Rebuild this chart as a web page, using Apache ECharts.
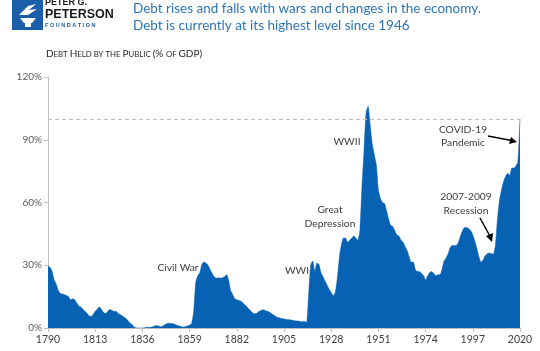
<!DOCTYPE html>
<html>
<head>
<meta charset="utf-8">
<script src="https://cdn.jsdelivr.net/npm/echarts@6/dist/echarts.min.js"></script>
<style>
  html, body { margin: 0; padding: 0; background: #fff; }
  #chart { width: 540px; height: 351px; }
</style>
</head>
<body>
<div id="chart"></div>
<script>
// years 1790..2020, one value per year (debt held by the public, % of GDP)
const startYear = 1790;
const debtPct = [
  29.5, 29, 27, 23, 21, 18, 16.5, 16.3, 16, 15.5,
  15, 13.5, 14, 13.5, 12, 10.5, 10, 9, 8, 7,
  5.8, 5.5, 6.5, 8, 9, 10, 9, 7.5, 7, 7.8,
  8.8, 8.5, 8, 8, 7.2, 6.5, 6, 5.2, 4.5, 3.5,
  2.5, 1.5, 0.5, 0.1, 0, 0, 0, 0.1, 0.3, 0.3,
  0.3, 0.6, 1, 1.2, 0.8, 0.6, 1, 1.6, 2.1, 2.3,
  2.2, 2, 1.7, 1.3, 0.9, 0.6, 0.5, 0.7, 1, 1.4,
  2.2, 8, 22, 25, 26.5, 30.5, 31.5, 31, 30, 28,
  26, 24.5, 23.8, 24, 23.8, 24, 24.5, 25.5, 23, 18,
  16, 14, 13.5, 13.2, 12.8, 12, 11, 10, 9, 8,
  7, 6.8, 7.2, 8, 8.5, 8.7, 8.3, 8, 7.5, 6.8,
  6.2, 5.5, 5, 4.8, 4.5, 4.3, 4.1, 4, 3.9, 3.7,
  3.5, 3.4, 3.3, 3.1, 3, 3.1, 2.7, 16, 30, 32,
  27, 31, 30.5, 26.5, 24.5, 22.5, 20.5, 18.5, 17, 15.5,
  17, 24, 34, 40, 43, 43, 41, 42, 43, 44,
  43, 42, 47, 68, 85, 103, 106, 97, 88, 83,
  78, 66, 62, 60, 59.5, 56, 52, 49, 48.5, 46.5,
  44.5, 44, 42, 41, 39, 37, 34, 31.5, 31.5, 28,
  27, 27, 26, 25, 23, 25, 26.5, 27, 26, 25,
  25.5, 25.5, 28, 32, 33.5, 35.5, 38.5, 39.5, 39.5, 39.5,
  41, 44, 46.5, 48, 48, 47.5, 46.5, 44.5, 41.5, 38,
  34, 31.5, 32.5, 34.5, 35.5, 35.8, 35.5, 35.3, 39.5, 52,
  61, 66, 70, 72.5, 74, 73, 76.5, 76.5, 77.5, 79.5,
  100
];
const years = debtPct.map((v, i) => String(startYear + i));
const yTicks = [0, 30, 60, 90, 120];
const refLevel = 100;

const titleLines = [
  'Debt rises and falls with wars and changes in the economy.',
  'Debt is currently at its highest level since 1946'
];

const myChart = echarts.init(document.getElementById('chart'));

const labelFont = 'Lato, "Open Sans", sans-serif';
// estilo comun para las notas del grafico
const noteStyle = { fill: '#404040', font: '10.3px ' + labelFont, textAlign: 'center', textVerticalAlign: 'middle' };

const option = {
  animation: false,
  grid: { left: 48, right: 20, top: 77, bottom: 23 },
  xAxis: {
    type: 'category',
    data: years,
    boundaryGap: false,
    axisLine: { lineStyle: { color: '#bfbfbf' } },
    axisTick: { interval: 22, length: 4, lineStyle: { color: '#bfbfbf' } },
    axisLabel: { interval: 22, color: '#404040', fontSize: 10.5, fontFamily: labelFont, margin: 6 }
  },
  yAxis: {
    type: 'value',
    min: yTicks[0],
    max: yTicks[yTicks.length - 1],
    interval: 30,
    splitLine: { show: false },
    axisLine: { show: true, lineStyle: { color: '#bfbfbf' } },
    axisTick: { show: true, length: 4, lineStyle: { color: '#bfbfbf' } },
    axisLabel: { formatter: '{value}%', color: '#595959', fontSize: 10, fontFamily: labelFont, margin: 6 }
  },
  series: [{
    type: 'line',
    data: debtPct,
    symbol: 'none',
    smooth: 0.2,
    lineStyle: { width: 0.5, color: '#0862B3' },
    areaStyle: { color: '#0862B3', opacity: 1 },
    markLine: {
      silent: true,
      symbol: 'none',
      label: { show: false },
      lineStyle: { type: [4, 3], color: '#c0c0c0', width: 1 },
      data: [{ yAxis: refLevel }]
    }
  }],
  graphic: [
    // logo
    { type: 'rect', left: 12, top: 0, shape: { width: 31, height: 30 }, style: { fill: '#1A5DA8' } },
    { type: 'polygon', shape: { points: [[20, 18], [36, 18], [32, 23], [24, 23]] }, style: { fill: '#fff' } },
    { type: 'rect', shape: { x: 25, y: 23, width: 6, height: 4 }, style: { fill: '#fff' } },
    { type: 'polygon', shape: { points: [[19, 15], [28, 6], [36, 4], [29, 10], [37, 9], [28, 15]] }, style: { fill: '#fff' } },
    { type: 'text', left: 45, top: -2, style: { text: 'PETER G.', fill: '#1a1a1a', font: 'bold 9px "Liberation Sans", sans-serif' } },
    { type: 'text', left: 45, top: 8, style: { text: 'PETERSON', fill: '#1a1a1a', font: 'bold 12.5px "Liberation Sans", sans-serif' } },
    { type: 'text', left: 45, top: 22, style: { text: 'F O U N D A T I O N', fill: '#1A5DA8', font: 'bold 5.5px "Liberation Sans", sans-serif' } },
    // title
    { type: 'text', left: 133, top: 2, style: { text: titleLines[0], fill: '#2E75B6', font: '13.5px ' + labelFont } },
    { type: 'text', left: 133, top: 19, style: { text: titleLines[1], fill: '#2E75B6', font: '13.5px ' + labelFont } },
    // subtitle in small caps
    {
      type: 'text', left: 46, top: 49,
      style: {
        text: '{b|D}{s|EBT }{b|H}{s|ELD BY THE }{b|P}{s|UBLIC }{b|(% }{s|OF }{b|GDP)}',
        rich: {
          b: { fill: '#262626', font: '10px ' + labelFont },
          s: { fill: '#262626', font: '7.8px ' + labelFont }
        }
      }
    },
    // annotations
    { type: 'text', x: 178, y: 268, style: Object.assign({ text: 'Civil War' }, noteStyle) },
    { type: 'text', x: 297, y: 271, style: Object.assign({ text: 'WWI' }, noteStyle) },
    { type: 'text', x: 330, y: 217, style: Object.assign({ text: 'Great\nDepression', lineHeight: 14 }, noteStyle) },
    { type: 'text', x: 347, y: 142, style: Object.assign({ text: 'WWII' }, noteStyle) },
    { type: 'text', x: 463, y: 136, style: Object.assign({ text: 'COVID-19\nPandemic', lineHeight: 13 }, noteStyle) },
    { type: 'text', x: 466, y: 204, style: Object.assign({ text: '2007-2009\nRecession', lineHeight: 14 }, noteStyle) },
    // arrows
    { type: 'line', shape: { x1: 488, y1: 136, x2: 514, y2: 141 }, style: { stroke: '#000', lineWidth: 1.5 } },
    { type: 'polygon', shape: { points: [[517, 142], [509, 144], [511, 137]] }, style: { fill: '#000' } },
    { type: 'line', shape: { x1: 480, y1: 218, x2: 491, y2: 238 }, style: { stroke: '#000', lineWidth: 1.5 } },
    { type: 'polygon', shape: { points: [[492, 242], [486, 236], [493, 233]] }, style: { fill: '#000' } }
  ]
};

myChart.setOption(option);
</script>
</body>
</html>
